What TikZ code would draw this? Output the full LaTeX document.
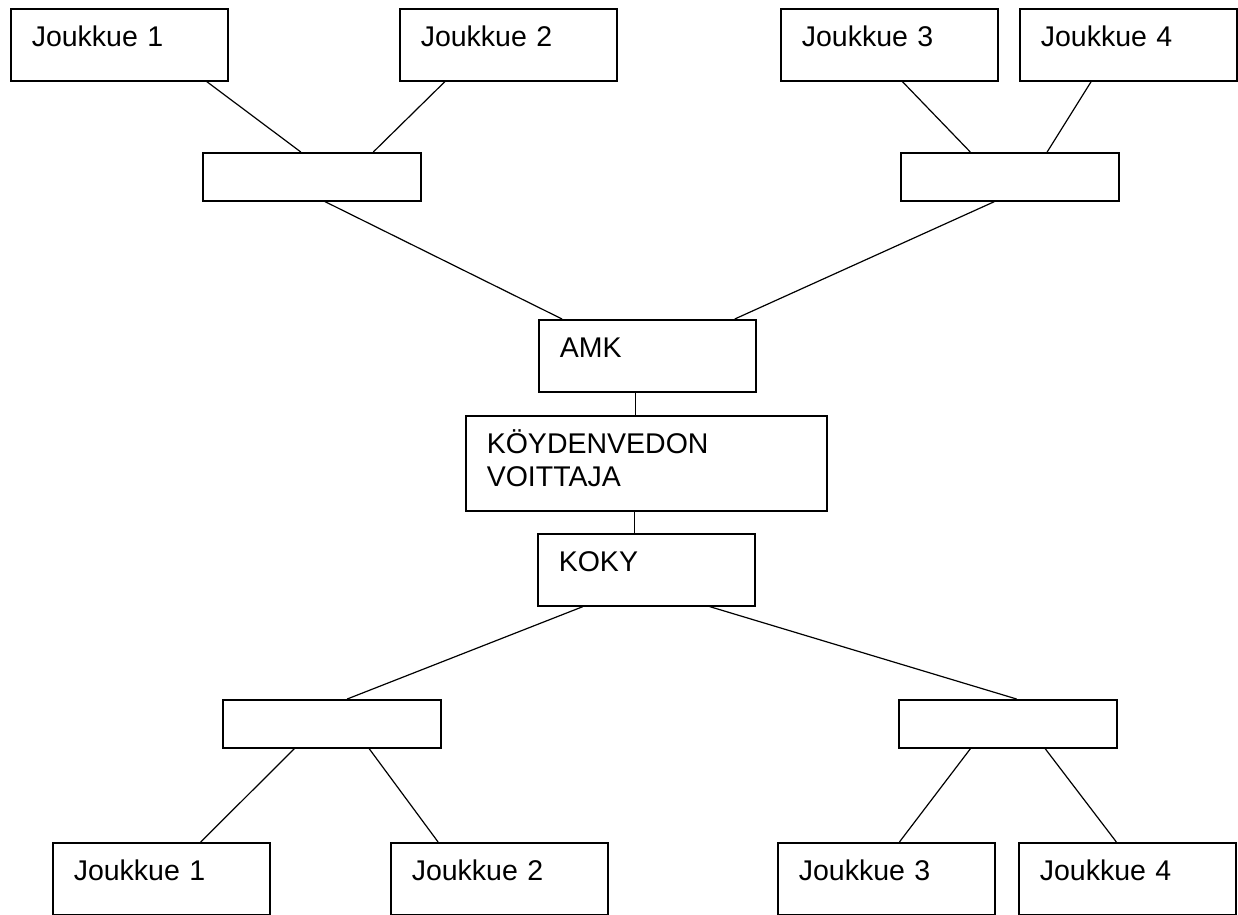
\documentclass[tikz,border=0pt]{standalone}
\usepackage{fontspec}
\setmainfont{Liberation Sans}
\usetikzlibrary{calc}

\tikzset{
  box/.style={draw, line width=1.6pt, anchor=north west, inner ysep=0pt, inner xsep=21pt,
    align=left, text width=175pt, text height=38pt, text depth=34pt,
    font=\fontsize{28.5}{33}\selectfont},
  wide/.style={text width=319pt, text depth=57pt},
  slot/.style={draw, line width=1.6pt, anchor=north west, inner sep=0pt,
    minimum width=218pt, minimum height=48pt},
  link/.style={line width=1.2pt}
}

\begin{document}
\begin{tikzpicture}[x=1pt,y=-1pt]
    \useasboundingbox (0,0) rectangle (1238,914);

    % Upper bracket
    \node[box] (j1up) at (10,8) {Joukkue 1};
    \node[box] (j2up) at (399,8) {Joukkue 2};
    \node[box] (j3up) at (780,8) {Joukkue 3};
    \node[box] (j4up) at (1019,8) {Joukkue 4};
    \node[slot] (semi1up) at (202,152) {};
    \node[slot] (semi2up) at (900,152) {};

    % Final
    \node[box] (amk) at (538,319) {AMK};
    \node[box,wide] (winner) at (465,415) {KÖYDENVEDON\\VOITTAJA};
    \node[box] (koky) at (537,533) {KOKY};

    % Lower bracket
    \node[slot] (semi1lo) at (222,699) {};
    \node[slot] (semi2lo) at (898,699) {};
    \node[box] (j1lo) at (52,842) {Joukkue 1};
    \node[box] (j2lo) at (390,842) {Joukkue 2};
    \node[box] (j3lo) at (777,842) {Joukkue 3};
    \node[box] (j4lo) at (1018,842) {Joukkue 4};

    % Upper connectors
    \draw[link] ($(j1up.south west)!.90!(j1up.south east)$) -- ($(semi1up.north west)!.45!(semi1up.north east)$);
    \draw[link] ($(j2up.south west)!.21!(j2up.south east)$) -- ($(semi1up.north west)!.78!(semi1up.north east)$);
    \draw[link] ($(j3up.south west)!.56!(j3up.south east)$) -- ($(semi2up.north west)!.32!(semi2up.north east)$);
    \draw[link] ($(j4up.south west)!.33!(j4up.south east)$) -- ($(semi2up.north west)!.67!(semi2up.north east)$);
    \draw[link] ($(semi1up.south west)!.56!(semi1up.south east)$) -- ($(amk.north west)!.11!(amk.north east)$);
    \draw[link] ($(semi2up.south west)!.43!(semi2up.south east)$) -- ($(amk.north west)!.90!(amk.north east)$);

    % Middle connectors
    \draw[link] ([xshift=-12pt]amk.south) -- ([xshift=-12pt]amk.south |- winner.north);
    \draw[link] ([xshift=-12pt]winner.south) -- ([xshift=-12pt]winner.south |- koky.north);

    % Lower connectors
    \draw[link] ($(koky.south west)!.21!(koky.south east)$) -- ($(semi1lo.north west)!.57!(semi1lo.north east)$);
    \draw[link] ($(koky.south west)!.79!(koky.south east)$) -- ($(semi2lo.north west)!.54!(semi2lo.north east)$);
    \draw[link] ($(semi1lo.south west)!.33!(semi1lo.south east)$) -- ($(j1lo.north west)!.68!(j1lo.north east)$);
    \draw[link] ($(semi1lo.south west)!.67!(semi1lo.south east)$) -- ($(j2lo.north west)!.22!(j2lo.north east)$);
    \draw[link] ($(semi2lo.south west)!.33!(semi2lo.south east)$) -- ($(j3lo.north west)!.56!(j3lo.north east)$);
    \draw[link] ($(semi2lo.south west)!.67!(semi2lo.south east)$) -- ($(j4lo.north west)!.45!(j4lo.north east)$);
\end{tikzpicture}
\end{document}
